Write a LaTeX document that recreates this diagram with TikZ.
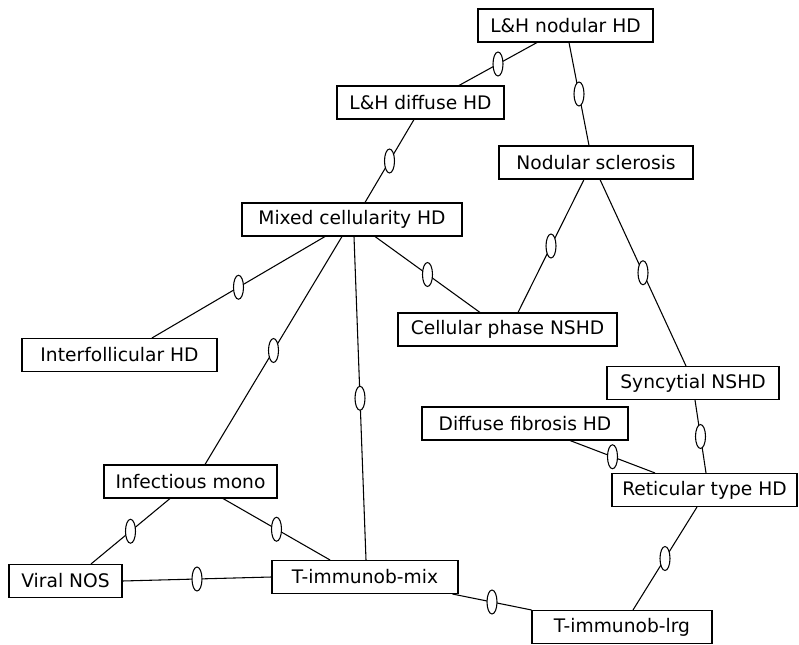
\documentclass[tikz,border=0pt]{standalone}
\usepackage{fontspec}
\setmainfont{DejaVu Sans}
\usetikzlibrary{shapes.geometric,calc}
\begin{document}
\begin{tikzpicture}[x=0.75pt,y=-0.75pt,
  box/.style={draw,line width=0.8pt,inner sep=0pt,minimum height=24.75pt,font=\fontsize{14}{16}\selectfont},
  bw/.style={minimum width=#1*0.75pt},
  link/.style={line width=0.8pt},
  oval/.style={draw,fill=white,ellipse,line width=0.8pt,inner sep=0pt,minimum width=7.5pt,minimum height=18pt}]
\useasboundingbox (0,0) rectangle (799,645);

\node[box,bw=175] (lhn) at (565.5,25.5) {L\&H nodular HD};
\node[box,bw=167] (lhd) at (420.5,102.5) {L\&H diffuse HD};
\node[box,bw=194] (ns)  at (596,162.5) {Nodular sclerosis};
\node[box,bw=220] (mc)  at (352,219.5) {Mixed cellularity HD};
\node[box,bw=219] (cp)  at (507.5,329.5) {Cellular phase NSHD};
\node[box,bw=195] (if)  at (119.5,355) {Interfollicular HD};
\node[box,bw=172] (syn) at (693,383) {Syncytial NSHD};
\node[box,bw=206] (df)  at (525,423.5) {Diffuse fibrosis HD};
\node[box,bw=185] (rt)  at (704.5,490) {Reticular type HD};
\node[box,bw=173] (im)  at (190.5,481.5) {Infectious mono};
\node[box,bw=113] (vn)  at (65.5,581) {Viral NOS};
\node[box,bw=186] (tm)  at (365,577) {T-immunob-mix};
\node[box,bw=180] (tl)  at (622,627) {T-immunob-lrg};

\draw[link] ($(lhn.south)+(-28.5,0)$) -- node[oval]{} ($(lhd.north)+(38.5,0)$);
\draw[link] ($(lhn.south)+(3.5,0)$) -- node[oval]{} ($(ns.north)+(-7,0)$);
\draw[link] ($(lhd.south)+(-6.5,0)$) -- node[oval]{} ($(mc.north)+(13,0)$);
\draw[link] ($(ns.south)+(-12,0)$) -- node[oval]{} ($(cp.north)+(10.5,0)$);
\draw[link] ($(ns.south)+(4,0)$) -- node[oval]{} ($(syn.north)+(-7,0)$);
\draw[link] ($(mc.south)+(-27,0)$) -- node[oval]{} ($(if.north)+(32.5,0)$);
\draw[link] ($(mc.south)+(23,0)$) -- node[oval]{} ($(cp.north)+(-27.5,0)$);
\draw[link] ($(mc.south)+(-10,0)$) -- node[oval]{} ($(im.north)+(14.5,0)$);
\draw[link] ($(mc.south)+(2,0)$) -- node[oval]{} ($(tm.north)+(1,0)$);
\draw[link] ($(im.south)+(-20.5,0)$) -- node[oval]{} ($(vn.north)+(25.5,0)$);
\draw[link] ($(im.south)+(32.5,0)$) -- node[oval]{} ($(tm.north)+(-35,0)$);
\draw[link] (vn.east) -- node[oval]{} (tm.west);
\draw[link] ($(tm.south east)+(-6,0)$) -- node[oval]{} (tl.north west);
\draw[link] ($(syn.south)+(2,0)$) -- node[oval]{} ($(rt.north)+(1.5,0)$);
\draw[link] ($(df.south)+(45,0)$) -- node[oval]{} ($(rt.north)+(-49.5,0)$);
\draw[link] ($(rt.south)+(-7.5,0)$) -- node[oval]{} ($(tl.north)+(11,0)$);
\end{tikzpicture}
\end{document}
